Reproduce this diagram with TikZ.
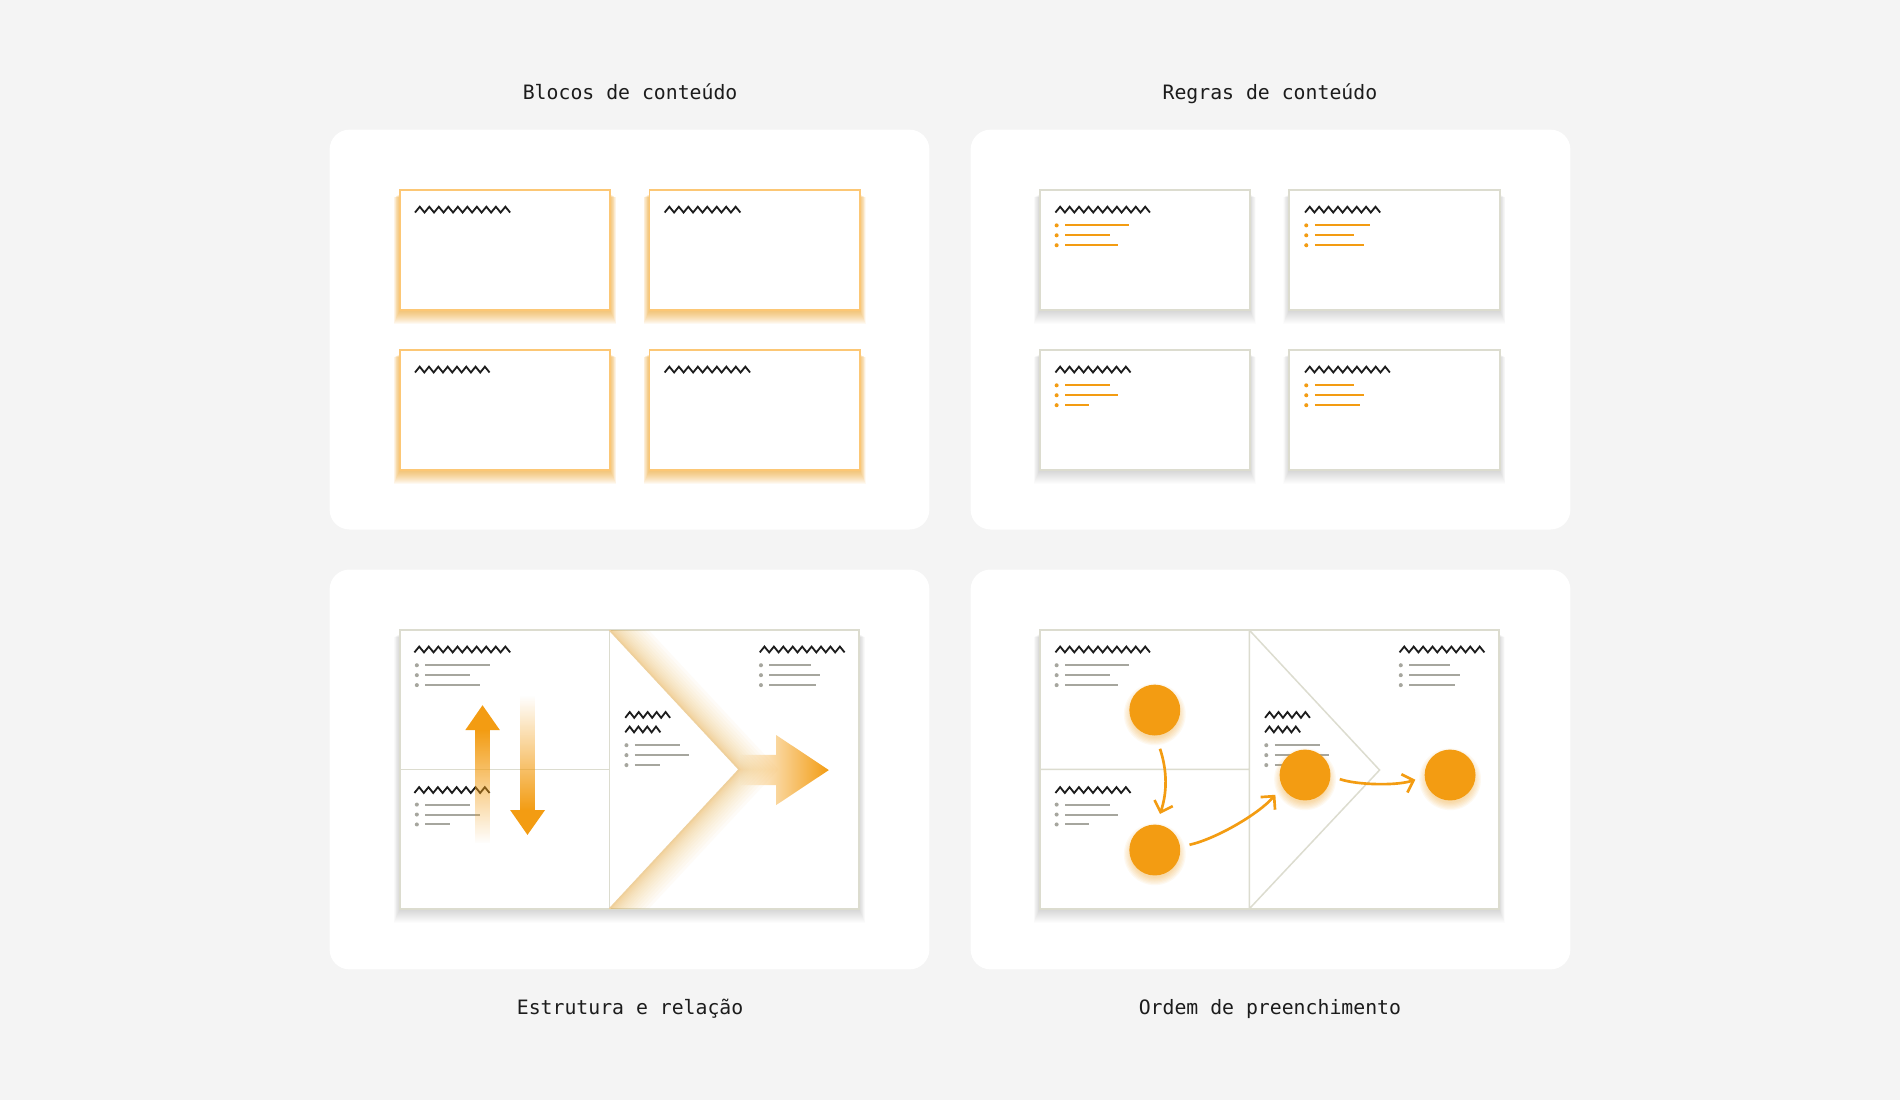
\documentclass[tikz,border=0pt]{standalone}
\usepackage{fontspec}
\newfontfamily\titlefont{DejaVu Sans Mono}
\usetikzlibrary{arrows.meta,fadings,calc}

\definecolor{bggray}{HTML}{F4F4F4}
\definecolor{accent}{HTML}{F39C12}
\definecolor{accentsoft}{HTML}{FCC775}
\definecolor{framegray}{HTML}{DCDCCF}
\definecolor{textgray}{HTML}{A6A69E}
\definecolor{ink}{HTML}{1C1C1C}

\tikzfading[name=fade top, top color=transparent!100, bottom color=transparent!0]
\tikzfading[name=fade bottom, top color=transparent!0, bottom color=transparent!100]
\tikzfading[name=fade left, left color=transparent!100, middle color=transparent!35, right color=transparent!0]

\tikzset{
  panel/.style={fill=white, rounded corners=0.33cm},
  title/.style={anchor=base, text=ink, font=\titlefont\fontsize{9.3}{11}\selectfont},
  squiggle/.style={ink, line width=0.85pt, line join=miter},
  card/.style={fill=white, draw=framegray, line width=0.9pt},
  divider/.style={framegray, line width=0.7pt},
  dot/.style={circle, fill=accent, minimum size=0.84cm, inner sep=0pt},
  flow/.style={accent, line width=1.25pt, -{Straight Barb[length=4.5pt,width=9pt]}},
}

% wavy heading: x, y, end x
\newcommand{\heading}[3]{%
  \pgfmathtruncatemacro\hn{max(1,round(((#3)-(#1))/7.8))}%
  \pgfmathsetmacro\hs{((#3)-(#1))/\hn/2}%
  \pgfmathtruncatemacro\hm{2*\hn}%
  \draw[squiggle] ({#1},{#2+2.4}) \foreach \j in {1,...,\hm}{ -- ({#1+\j*\hs},{#2+2.4-4.8*mod(\j,2)}) };}
% bullet list: colour, dot x, first y, three line lengths
\newcommand{\bulletlist}[6]{\foreach \w [count=\i from 0] in {#4,#5,#6}{%
  \fill[#1] (#2,#3+\i*8.2) circle[radius=0.95pt];
  \draw[#1, line width=0.95pt] (#2+7,#3+\i*8.2) -- ++(\w,0);}}
% soft shadow under a card: colour, opacity, x1, y1, x2, y2
\newcommand{\cardshadow}[6]{\foreach \k in {1,...,14}{%
  \fill[#1, opacity=#2] (#3-\k*.35,#4+3+\k*.2) rectangle (#5+\k*.35,#6+\k*.85);}}

\begin{document}
\begin{tikzpicture}[x=0.02cm, y=-0.02cm]
\fill[bggray] (0,0) rectangle (1568,908);
\useasboundingbox (0,0) rectangle (1568,908);

% titles
\node[title] (blocos) at (520,82) {Blocos de conteúdo};
\node[title] (regras) at (1048,82) {Regras de conteúdo};
\node[title] (estrutura) at (520,837) {Estrutura e relação};
\node[title] (ordem) at (1048,837) {Ordem de preenchimento};

% panels
\fill[panel] (272,107) rectangle (767,437);
\fill[panel] (801,107) rectangle (1296,437);
\fill[panel] (272,470) rectangle (767,800);
\fill[panel] (801,470) rectangle (1296,800);

% blocos de conteudo
\foreach \x/\y/\e in {330/157/421, 536/157/611, 330/289/404, 536/289/619}{
  \cardshadow{accent}{.055}{\x}{\y}{\x+173.5}{\y+98.5}
  \draw[card, draw=accentsoft] (\x,\y) rectangle (\x+173.5,\y+98.5);
  \heading{\x+12.5}{\y+16}{\e}
}

% regras de conteudo
\foreach \x/\y/\e/\a/\b/\c in {858/157/949/53/37/44, 1064/157/1139/46/32/41, 858/289/933/37/44/20, 1064/289/1147/32/41/37}{
  \cardshadow{black}{.011}{\x}{\y}{\x+173.5}{\y+98.5}
  \draw[card] (\x,\y) rectangle (\x+173.5,\y+98.5);
  \heading{\x+13}{\y+16}{\e}
  \bulletlist{accent}{\x+14}{\y+29}{\a}{\b}{\c}
}

% estrutura e relacao
\cardshadow{black}{.011}{330}{520}{709}{750}
\draw[card] (330,520) rectangle (709,750);
\draw[divider] (503,520) -- (503,750) (330,635) -- (503,635);
\begin{scope}
  \clip (503,520) rectangle (709,750);
  \foreach \i in {1,...,18}
    \fill[accent, opacity=.03] (503,520) -- (610,635) -- (503,750) -- (503+.1*\i*\i,750) -- (610+.1*\i*\i,635) -- (503+.1*\i*\i,520) -- cycle;
\end{scope}
\draw[divider, draw=accentsoft!55!framegray] (503,520) -- (610,635) -- (503,750);
\heading{342}{536}{421} \bulletlist{textgray}{344}{549}{53}{37}{45}
\heading{342}{652}{404} \bulletlist{textgray}{344}{664}{37}{45}{20}
\heading{516}{590}{553} \heading{516}{602}{545} \bulletlist{textgray}{517}{615}{37}{45}{21}
\heading{627}{536}{697} \bulletlist{textgray}{628}{549}{34}{42}{38}
\fill[accent, path fading=fade bottom] (392,602) rectangle (404.5,696);
\fill[accent] (384,602.5) -- (398.2,582) -- (412.5,602.5) -- cycle;
\fill[accent, path fading=fade top] (429,574) rectangle (441.5,669);
\fill[accent] (421,668.5) -- (435.3,689) -- (449.8,668.5) -- cycle;
\fill[accent, path fading=fade left] (610,623) -- (640.5,623) -- (640.5,606.6) -- (684,635.5) -- (640.5,664.4) -- (640.5,648) -- (610,648) -- cycle;

% ordem de preenchimento
\cardshadow{black}{.011}{858}{520}{1237}{750}
\draw[card] (858,520) rectangle (1237,750);
\draw[divider] (1031,520) -- (1031,750) (858,635) -- (1031,635)
  (1031,520) -- (1138.5,635.5) -- (1031,750);
\heading{871}{536}{949} \bulletlist{textgray}{872}{549}{53}{37}{44}
\heading{871}{652}{933} \bulletlist{textgray}{872}{664}{37}{44}{20}
\heading{1044}{590}{1081} \heading{1044}{602}{1073} \bulletlist{textgray}{1045}{615}{37}{45}{21}
\heading{1155}{536}{1225} \bulletlist{textgray}{1156}{549}{34}{42}{38}
\foreach \n/\x/\y in {c1/953/586, c2/953/701.5, c3/1077/639.6, c4/1196.7/639.6}{
  \foreach \k in {1,...,7}
    \fill[accent, opacity=.06] (\x,\y+3.5) circle[radius={(18.5+\k)*0.569pt}];
  \node[dot] (\n) at (\x,\y) {};
}
\draw[flow] ($(c1.south)+(4.3,10.6)$) .. controls +(6,18) and +(6,-18) .. ($(c2.north)+(4.3,-8.4)$);
\draw[flow] ($(c2.east)+(7.3,-4.3)$) .. controls +(22,-5) and +(-14,16) .. ($(c3.south west)+(-9.4,1.2)$);
\draw[flow] ($(c3.east)+(7.3,3.4)$) .. controls +(15,5) and +(-15,5) .. ($(c4.west)+(-7.4,3.9)$);
\end{tikzpicture}
\end{document}
